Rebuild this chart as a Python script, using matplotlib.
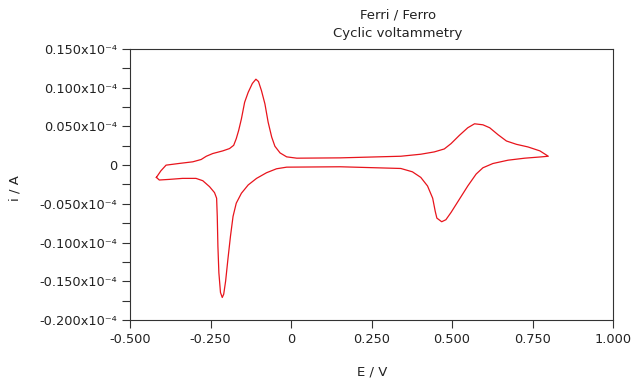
import matplotlib
matplotlib.use("Agg")
import matplotlib.pyplot as plt
from matplotlib.ticker import FixedLocator, FuncFormatter

plt.rcParams['font.family'] = ['DejaVu Sans']
plt.rcParams['axes.unicode_minus'] = False

# potential (V) and current (x1e-4 A), one closed cycle
E = [-0.418, -0.404, -0.388, -0.347, -0.305, -0.279, -0.263, -0.243, -0.212,
     -0.191, -0.178, -0.170, -0.1625, -0.154, -0.144, -0.133, -0.120, -0.109,
     -0.101, -0.0917, -0.081, -0.071, -0.060, -0.050, -0.034, -0.0135, 0.018,
     0.153, 0.341, 0.403, 0.445, 0.476, 0.497, 0.523, 0.549, 0.570, 0.596,
     0.617, 0.643, 0.669, 0.700, 0.736, 0.773, 0.799,
     0.778, 0.726, 0.674, 0.627, 0.596, 0.575, 0.549, 0.523, 0.497, 0.481,
     0.468, 0.453, 0.448, 0.440, 0.424, 0.403, 0.377, 0.341, 0.153, -0.0135,
     -0.045, -0.076, -0.107, -0.133, -0.154, -0.170, -0.180, -0.188, -0.196,
     -0.203, -0.209, -0.2135, -0.219, -0.224, -0.227, -0.229, -0.231, -0.2375,
     -0.253, -0.274, -0.295, -0.337, -0.378, -0.409, -0.418]
i = [-0.0158, -0.0073, 0.0, 0.0022, 0.0043, 0.0073, 0.0115, 0.015, 0.0184,
     0.0214, 0.0256, 0.0342, 0.0449, 0.0598, 0.0812, 0.094, 0.1055, 0.111,
     0.108, 0.0962, 0.0791, 0.0555, 0.0363, 0.0244, 0.0158, 0.0107, 0.009,
     0.0094, 0.0115, 0.0141, 0.0171, 0.0209, 0.0278, 0.0385, 0.0483, 0.0534,
     0.0521, 0.0483, 0.0393, 0.0312, 0.0269, 0.0235, 0.0184, 0.0115,
     0.0107, 0.009, 0.0064, 0.0021, -0.0034, -0.0115, -0.0269, -0.044, -0.0611,
     -0.0705, -0.0731, -0.0684, -0.0598, -0.0427, -0.0269, -0.0158, -0.0086,
     -0.0043, -0.0021, -0.0026, -0.0047, -0.0098, -0.0171, -0.0256, -0.0363,
     -0.0491, -0.0662, -0.0919, -0.1218, -0.1496, -0.1667, -0.1709, -0.1645,
     -0.1389, -0.1047, -0.0662, -0.0427, -0.0355, -0.0278, -0.0201, -0.0171,
     -0.0171, -0.0184, -0.0192, -0.0158]

x_ticks = [-0.5, -0.25, 0, 0.25, 0.5, 0.75, 1.0]
y_ticks = [-0.2, -0.15, -0.1, -0.05, 0, 0.05, 0.1, 0.15]
y_minor = [-0.175, -0.125, -0.075, -0.025, 0.025, 0.075, 0.125]

fig = plt.figure(figsize=(6.4, 3.82), dpi=100)
ax = fig.add_axes([130/640, 1-320/382, (613-130)/640, (320-49)/382])

ax.plot(E, i, color='#e8141c', lw=0.9)

ax.set_xlim(-0.5, 1.0)
ax.set_ylim(-0.2, 0.15)
ax.xaxis.set_major_locator(FixedLocator(x_ticks))
ax.yaxis.set_major_locator(FixedLocator(y_ticks))
ax.yaxis.set_minor_locator(FixedLocator(y_minor))

def fx(v, pos):
    return '0' if abs(v) < 1e-9 else '%.3f' % v

def fy(v, pos):
    if abs(v) < 1e-9:
        return '0'
    return '%.3fx10\u207b\u2074' % v

ax.xaxis.set_major_formatter(FuncFormatter(fx))
ax.yaxis.set_major_formatter(FuncFormatter(fy))
ax.tick_params(axis='both', which='both', direction='out', length=6,
               width=0.8, color='#333333', labelsize=9.3, labelcolor='#222222')
ax.tick_params(axis='y', pad=3)
for s in ax.spines.values():
    s.set_color('#333333')
    s.set_linewidth(0.8)

fig.text(372/640, 1-372/382, 'E / V', ha='center', va='center',
         fontsize=9.5, color='#222222')
fig.text(15/640, 1-188/382, 'i / A', ha='center', va='center',
         rotation=90, fontsize=9.5, color='#222222')

fig.text(398/640, 1-15/382, 'Ferri / Ferro', ha='center', va='center',
         fontsize=9.5, color='#222222')
fig.text(398/640, 1-33/382, 'Cyclic voltammetry', ha='center', va='center',
         fontsize=9.5, color='#222222')

fig.savefig('out.png', dpi=100)
